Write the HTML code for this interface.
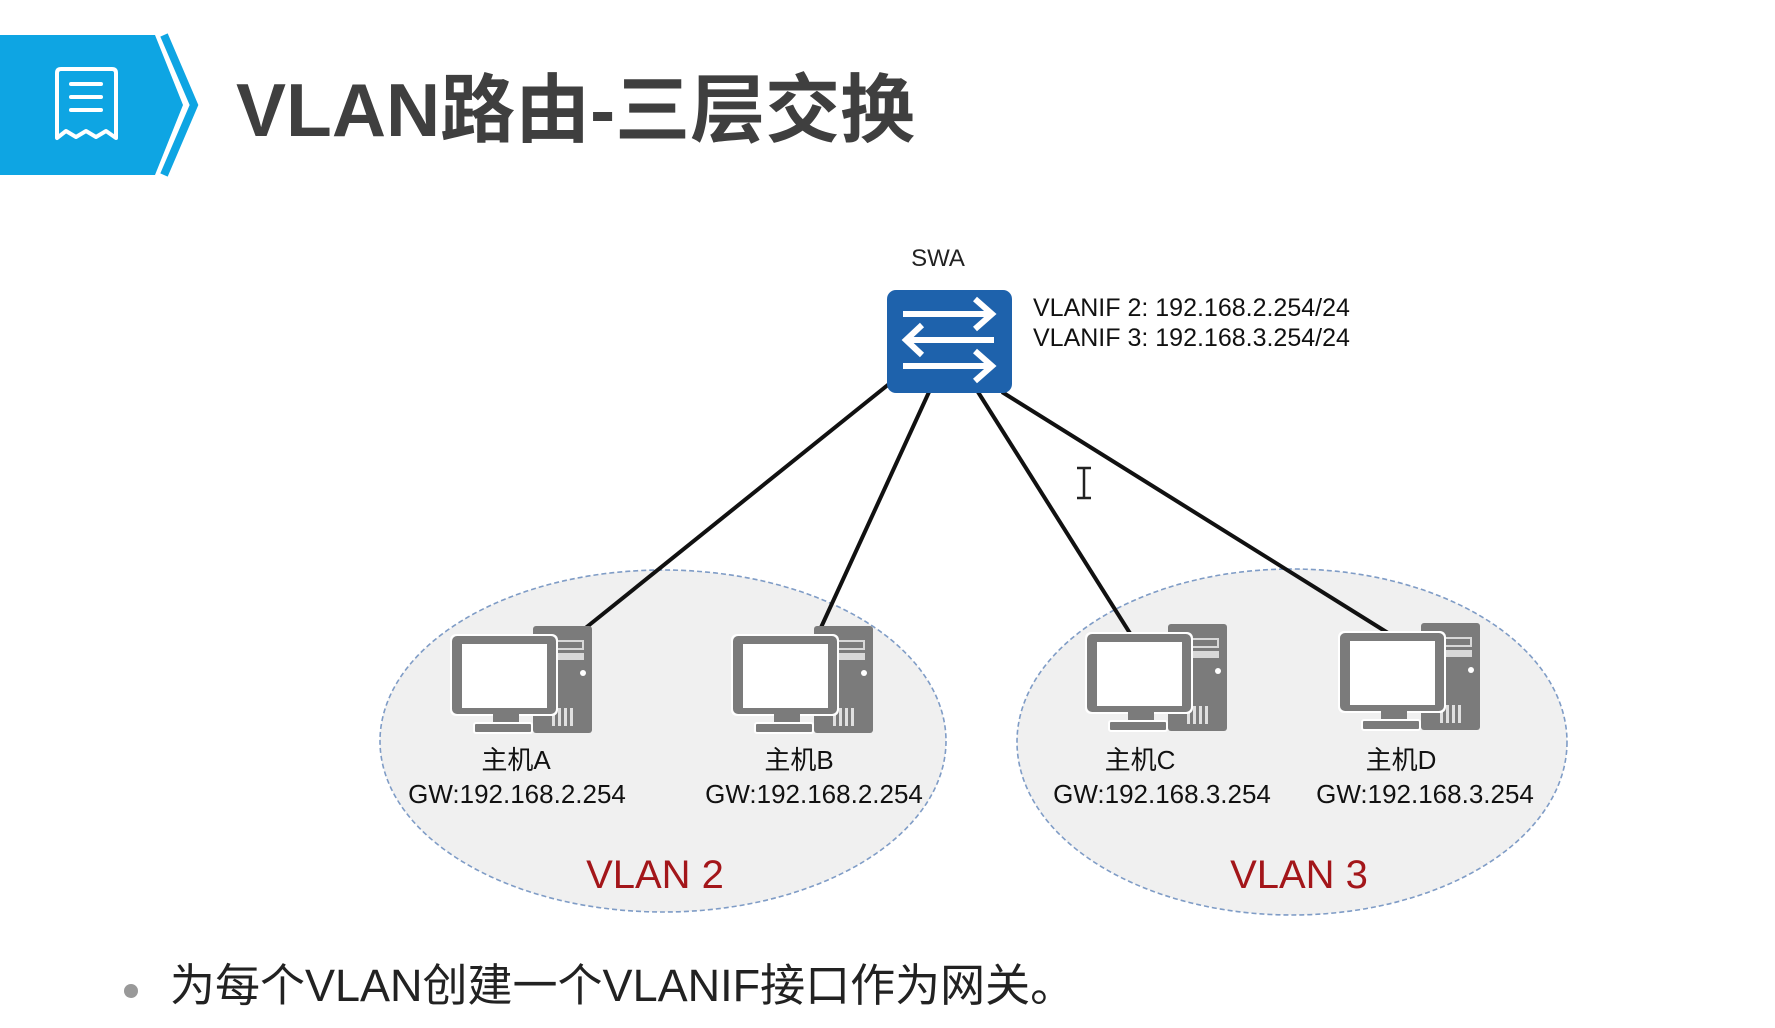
<!DOCTYPE html>
<html><head><meta charset="utf-8"><style>
html,body{margin:0;padding:0;background:#fff;}
body{width:1775px;height:1028px;position:relative;overflow:hidden;font-family:"Liberation Sans","Noto Sans CJK SC",sans-serif;}
</style></head><body>
<svg width="1775" height="1028" viewBox="0 0 1775 1028" xmlns="http://www.w3.org/2000/svg" style="position:absolute;left:0;top:0">
<defs>
<g id="pc">
  <rect x="81" y="0" width="59" height="107" rx="3" fill="#7b7b7b"/>
  <rect x="88" y="14" width="44" height="10" fill="#d8d8d8"/>
  <rect x="90" y="16" width="40" height="6" fill="#7b7b7b"/>
  <rect x="88" y="27" width="44" height="7" fill="#d8d8d8"/>
  <circle cx="131" cy="47" r="3" fill="#fff"/>
  <rect x="100" y="82" width="3" height="18" fill="#e0e0e0"/>
  <rect x="106" y="82" width="3" height="18" fill="#e0e0e0"/>
  <rect x="112" y="82" width="3" height="18" fill="#e0e0e0"/>
  <rect x="118" y="82" width="3" height="18" fill="#e0e0e0"/>
  <rect x="-2" y="8" width="108" height="82" rx="6" fill="#fff"/>
  <rect x="0" y="10" width="104" height="78" rx="5" fill="#7b7b7b"/>
  <rect x="10" y="18" width="85" height="64" fill="#fff"/>
  <rect x="41" y="88" width="26" height="10" fill="#7b7b7b"/>
  <rect x="22" y="97" width="58" height="10" rx="2" fill="#7b7b7b" stroke="#fff" stroke-width="2"/>
</g>
</defs>
<polygon points="0,35 155,35 183,105 155,175 0,175" fill="#0ea5e3"/>
<polyline points="164,35 194,105 164,175" fill="none" stroke="#0ea5e3" stroke-width="8"/>
<path d="M57,73 q0,-4 4,-4 h51 q4,0 4,4 v65 l-10,-7 l-10,6 l-10,-6 l-10,6 l-10,-6 l-9,7 z" fill="none" stroke="#fff" stroke-width="4" stroke-linejoin="round"/>
<line x1="71" y1="84" x2="101" y2="84" stroke="#fff" stroke-width="4" stroke-linecap="round"/>
<line x1="71" y1="97" x2="101" y2="97" stroke="#fff" stroke-width="4" stroke-linecap="round"/>
<line x1="71" y1="110" x2="101" y2="110" stroke="#fff" stroke-width="4" stroke-linecap="round"/>
<text x="236" y="136" font-size="75" font-weight="bold" fill="#3f3f3f" font-family="Liberation Sans, Noto Sans CJK SC, sans-serif">VLAN路由-三层交换</text>

<ellipse cx="663" cy="741" rx="283" ry="171" fill="#f0f0f0" stroke="#7f9cc6" stroke-width="1.6" stroke-dasharray="5,3"/>
<ellipse cx="1292" cy="742" rx="275" ry="173" fill="#f0f0f0" stroke="#7f9cc6" stroke-width="1.6" stroke-dasharray="5,3"/>

<g stroke="#111" stroke-width="4">
<line x1="889" y1="384" x2="583" y2="630"/>
<line x1="929" y1="392" x2="818" y2="634"/>
<line x1="978" y1="392" x2="1133" y2="638"/>
<line x1="1002" y1="392" x2="1388" y2="633"/>
</g>

<rect x="887" y="290" width="125" height="103" rx="9" fill="#1e62ac"/>
<g fill="none" stroke="#fff" stroke-width="6">
<line x1="903" y1="314" x2="992" y2="314"/><polyline points="975,299 992,314 975,329"/>
<line x1="994" y1="340" x2="906" y2="340"/><polyline points="922,325 906,340 922,355"/>
<line x1="903" y1="366" x2="992" y2="366"/><polyline points="975,351 992,366 975,381"/>
</g>
<text x="938" y="266" font-size="24" text-anchor="middle" fill="#222">SWA</text>
<text x="1033" y="316" font-size="25" fill="#111">VLANIF 2: 192.168.2.254/24</text>
<text x="1033" y="346" font-size="25" fill="#111">VLANIF 3: 192.168.3.254/24</text>

<g stroke="#222" stroke-width="2.5" fill="none"><line x1="1084" y1="468" x2="1084" y2="498"/><line x1="1077" y1="468" x2="1091" y2="468"/><line x1="1077" y1="498" x2="1091" y2="498"/></g>

<use href="#pc" x="452" y="626"/>
<use href="#pc" x="733" y="626"/>
<use href="#pc" x="1087" y="624"/>
<use href="#pc" x="1340" y="623"/>

<g font-size="26" text-anchor="middle" fill="#111">
<text x="516" y="769">主机A</text>
<text x="517" y="803">GW:192.168.2.254</text>
<text x="799" y="769">主机B</text>
<text x="814" y="803">GW:192.168.2.254</text>
<text x="1140" y="769">主机C</text>
<text x="1162" y="803">GW:192.168.3.254</text>
<text x="1401" y="769">主机D</text>
<text x="1425" y="803">GW:192.168.3.254</text>
</g>
<text x="655" y="888" font-size="40" text-anchor="middle" fill="#a3161a">VLAN 2</text>
<text x="1299" y="888" font-size="40" text-anchor="middle" fill="#a3161a">VLAN 3</text>

<circle cx="131" cy="991" r="7" fill="#999"/>
<text x="170" y="1001" font-size="45" fill="#222">为每个VLAN创建一个VLANIF接口作为网关。</text>
</svg>
</body></html>
